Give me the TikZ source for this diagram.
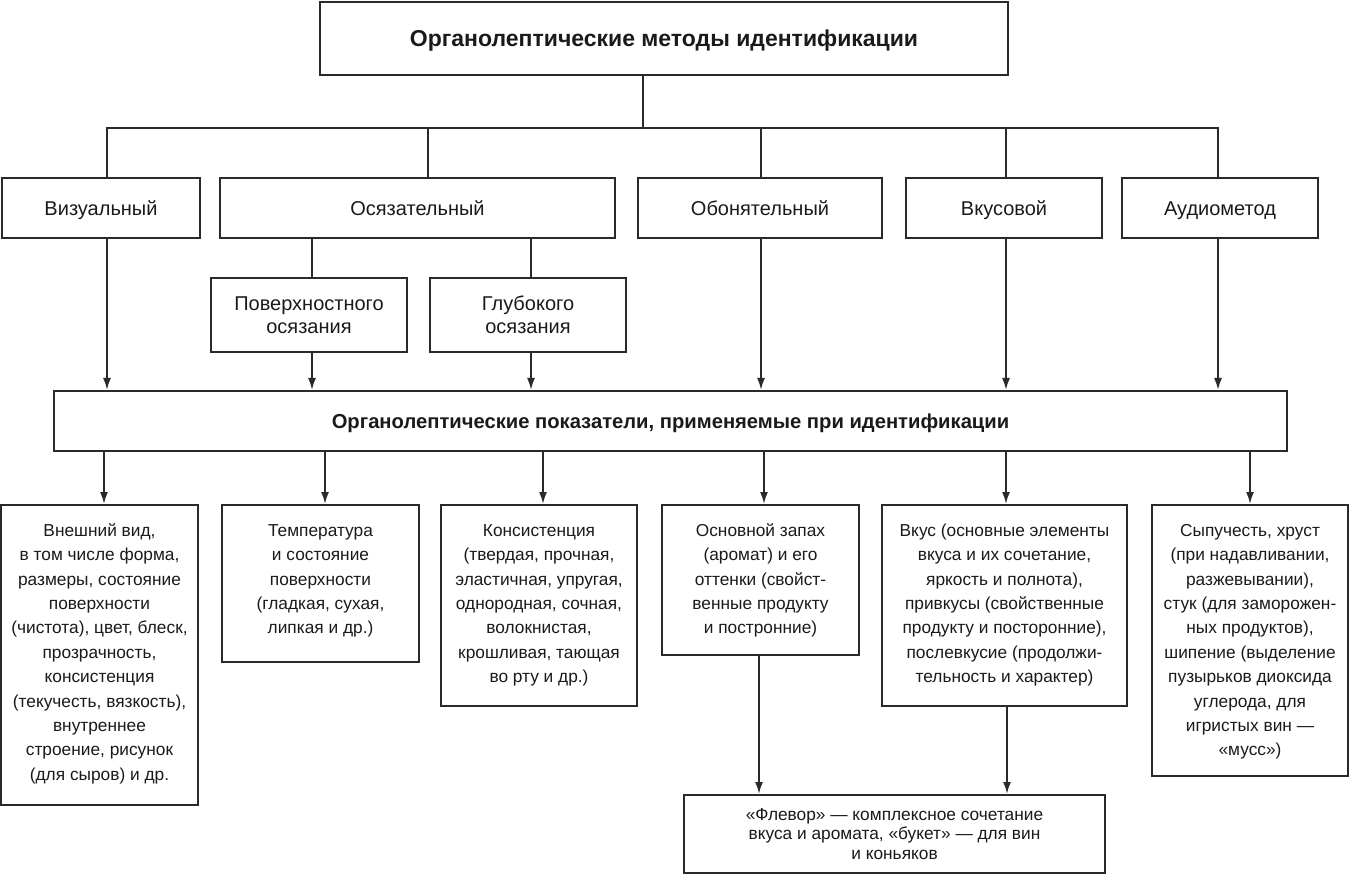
\documentclass[tikz,border=0pt]{standalone}
\usepackage{fontspec}
\setmainfont{Liberation Sans}
\usetikzlibrary{arrows.meta}
\definecolor{ln}{HTML}{2A2A2A}
\definecolor{tx}{HTML}{1A1A1A}
\tikzset{
  bx/.style={draw=ln, line width=2pt, inner sep=0pt, rectangle, text=tx, align=center},
  txt/.style={inner sep=0pt, text=tx, align=center, font=\fontsize{17.3}{24.4}\selectfont},
  ttl/.style={text height=16.5pt, text depth=0pt, font=\bfseries\fontsize{23}{27}\selectfont},
  mth/.style={text height=14.3pt, text depth=0pt, font=\fontsize{20}{24}\selectfont},
  sub/.style={font=\fontsize{20}{23.3}\selectfont},
  cn/.style={draw=ln, line width=1.8pt},
  ar/.style={cn, -{Latex[length=12pt,width=8pt]}}
}
\begin{document}
\begin{tikzpicture}[x=1pt,y=-1pt]
\useasboundingbox (0,0) rectangle (1349,874);
% top
\node[bx, ttl, minimum width=688pt, minimum height=73pt] (title) at (664,38.5) {Органолептические методы идентификации};
% methods
\node[bx, mth, minimum width=198pt, minimum height=60pt] (vis) at (101,208) {Визуальный};
\node[bx, mth, minimum width=395pt, minimum height=60pt] (osy) at (417.5,208) {Осязательный};
\node[bx, mth, minimum width=244pt, minimum height=60pt] (obo) at (760,208) {Обонятельный};
\node[bx, mth, minimum width=196pt, minimum height=60pt] (vku) at (1004,208) {Вкусовой};
\node[bx, mth, minimum width=196pt, minimum height=60pt] (aud) at (1220,208) {Аудиометод};
% sub
\node[bx, sub, minimum width=196pt, minimum height=74pt] (pov) at (309,315) {Поверхностного\\осязания};
\node[bx, sub, minimum width=196pt, minimum height=74pt] (glu) at (528,315) {Глубокого\\осязания};
% big
\node[bx, text height=14.5pt, text depth=0pt, font=\bfseries\fontsize{20.2}{24}\selectfont, minimum width=1233pt, minimum height=60pt] (big) at (670.5,421) {Органолептические показатели, применяемые при идентификации};
% row 3 boxes
\node[bx, minimum width=197pt, minimum height=300pt] (r1) at (99.5,655) {};
\node[bx, minimum width=197pt, minimum height=157pt] (r2) at (320.5,583.5) {};
\node[bx, minimum width=196pt, minimum height=201pt] (r3) at (539,605.5) {};
\node[bx, minimum width=197pt, minimum height=150pt] (r4) at (760.5,580) {};
\node[bx, minimum width=245pt, minimum height=201pt] (r5) at (1004.5,605.5) {};
\node[bx, minimum width=196pt, minimum height=271pt] (r6) at (1250,640.5) {};
\node[bx, font=\fontsize{17.3}{19.6}\selectfont, minimum width=421pt, minimum height=78pt] (fl) at (894.5,834) {«Флевор» — комплексное сочетание\\вкуса и аромата, «букет» — для вин\\и коньяков};
% row 3 texts
\node[txt, anchor=north] (t1) at ([yshift=-15pt]r1.north) {\strut Внешний вид,\\в том числе форма,\\размеры, состояние\\поверхности\\(чистота), цвет, блеск,\\прозрачность,\\консистенция\\(текучесть, вязкость),\\внутреннее\\строение, рисунок\\(для сыров) и др.};
\node[txt, anchor=north] (t2) at ([yshift=-15pt]r2.north) {\strut Температура\\и состояние\\поверхности\\(гладкая, сухая,\\липкая и др.)};
\node[txt, anchor=north] (t3) at ([yshift=-15pt]r3.north) {\strut Консистенция\\(твердая, прочная,\\эластичная, упругая,\\однородная, сочная,\\волокнистая,\\крошливая, тающая\\во рту и др.)};
\node[txt, anchor=north] (t4) at ([yshift=-15pt]r4.north) {\strut Основной запах\\(аромат) и его\\оттенки (свойст-\\венные продукту\\и постронние)};
\node[txt, anchor=north] (t5) at ([yshift=-15pt]r5.north) {\strut Вкус (основные элементы\\вкуса и их сочетание,\\яркость и полнота),\\привкусы (свойственные\\продукту и посторонние),\\послевкусие (продолжи-\\тельность и характер)};
\node[txt, anchor=north] (t6) at ([yshift=-15pt]r6.north) {\strut Сыпучесть, хруст\\(при надавливании,\\разжевывании),\\стук (для заморожен-\\ных продуктов),\\шипение (выделение\\пузырьков диоксида\\углерода, для\\игристых вин —\\«мусс»)};
% bus
\coordinate (bc) at (643,128);
\coordinate (b1) at (107,128);
\coordinate (b2) at (428,128);
\coordinate (b3) at (761,128);
\coordinate (b4) at (1006,128);
\coordinate (b5) at (1218,128);
\draw[cn] (title.south -| bc) -- (bc);
\draw[cn] (b1 |- vis.north) -- (b1) -- (b5) -- (b5 |- aud.north);
\draw[cn] (b2) -- (b2 |- osy.north);
\draw[cn] (b3) -- (b3 |- obo.north);
\draw[cn] (b4) -- (b4 |- vku.north);
% osy to subs
\coordinate (s1) at (312,0);
\coordinate (s2) at (531,0);
\draw[cn] (s1 |- osy.south) -- (s1 |- pov.north);
\draw[cn] (s2 |- osy.south) -- (s2 |- glu.north);
% into big
\draw[ar] (b1 |- vis.south) -- (b1 |- big.north);
\draw[ar] (s1 |- pov.south) -- (s1 |- big.north);
\draw[ar] (s2 |- glu.south) -- (s2 |- big.north);
\draw[ar] (b3 |- obo.south) -- (b3 |- big.north);
\draw[ar] (b4 |- vku.south) -- (b4 |- big.north);
\draw[ar] (b5 |- aud.south) -- (b5 |- big.north);
% out of big
\coordinate (d1) at (104,0);
\coordinate (d2) at (325,0);
\coordinate (d3) at (543,0);
\coordinate (d4) at (764,0);
\coordinate (d5) at (1006,0);
\coordinate (d6) at (1250,0);
\draw[ar] (d1 |- big.south) -- (d1 |- r1.north);
\draw[ar] (d2 |- big.south) -- (d2 |- r2.north);
\draw[ar] (d3 |- big.south) -- (d3 |- r3.north);
\draw[ar] (d4 |- big.south) -- (d4 |- r4.north);
\draw[ar] (d5 |- big.south) -- (d5 |- r5.north);
\draw[ar] (d6 |- big.south) -- (d6 |- r6.north);
% to flavor
\coordinate (f1) at (759,0);
\coordinate (f2) at (1007,0);
\draw[ar] (f1 |- r4.south) -- (f1 |- fl.north);
\draw[ar] (f2 |- r5.south) -- (f2 |- fl.north);
\end{tikzpicture}
\end{document}
